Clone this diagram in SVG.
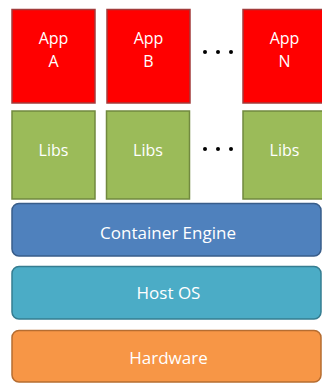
<svg xmlns="http://www.w3.org/2000/svg" width="322" height="383" viewBox="0 0 322 383">
<style>
text{font-family:"Open Sans","Noto Sans",sans-serif;font-size:16px;fill:#fff;text-anchor:middle}
text.big{font-size:17px}
.app{fill:#ff0000;stroke:#a33b3b;stroke-width:1.5}
.lib{fill:#9bbb59;stroke:#71893f;stroke-width:1.5}
.eng{fill:#4f81bd;stroke:#385d8a;stroke-width:1.5}
.os{fill:#4bacc6;stroke:#357d91;stroke-width:1.5}
.hw{fill:#f79646;stroke:#b66d31;stroke-width:1.5}
.dot{fill:#000}
</style>
<rect width="322" height="383" fill="#fff"/>
<g id="appA"><rect class="app" x="12" y="9.5" width="83" height="93.5"/><text x="53.5" y="44">App</text><text x="53.5" y="67">A</text></g>
<g id="appB"><rect class="app" x="107" y="9.5" width="83" height="93.5"/><text x="148.5" y="44">App</text><text x="148.5" y="67">B</text></g>
<g id="appN"><rect class="app" x="243" y="9.5" width="83" height="93.5"/><text x="284.5" y="44">App</text><text x="284.5" y="67">N</text></g>
<g id="dots1"><circle class="dot" cx="205" cy="52" r="2"/><circle class="dot" cx="218" cy="52" r="2"/><circle class="dot" cx="231" cy="52" r="2"/></g>
<g id="libsA"><rect class="lib" x="12" y="111" width="83" height="88"/><text x="53.5" y="156">Libs</text></g>
<g id="libsB"><rect class="lib" x="106.5" y="111" width="83" height="88"/><text x="148" y="156">Libs</text></g>
<g id="libsN"><rect class="lib" x="243" y="111" width="83" height="88"/><text x="284.5" y="156">Libs</text></g>
<g id="dots2"><circle class="dot" cx="205" cy="149" r="2"/><circle class="dot" cx="218" cy="149" r="2"/><circle class="dot" cx="231" cy="149" r="2"/></g>
<g id="engine"><rect class="eng" x="12" y="203.5" width="309" height="52.5" rx="7"/><text class="big" x="168" y="238.5">Container Engine</text></g>
<g id="hostos"><rect class="os" x="12" y="266.5" width="309" height="52.5" rx="7"/><text class="big" x="168.5" y="298.5">Host OS</text></g>
<g id="hardware"><rect class="hw" x="12" y="330.5" width="309" height="51.5" rx="7"/><text class="big" x="168.5" y="363.5">Hardware</text></g>
<g id="connectors"/>
</svg>
